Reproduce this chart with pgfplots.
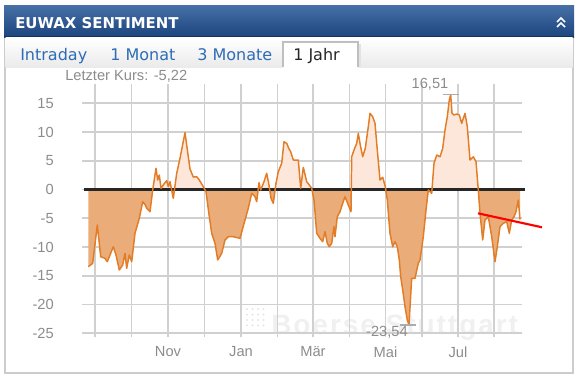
\documentclass[border=0pt]{standalone}
\usepackage{fontspec}
\setmainfont{Liberation Sans}
\newfontfamily\dejavu{DejaVu Sans}
\usepackage{pgfplots}
\pgfplotsset{compat=1.18}
\usepackage{pgfplotstable}

\definecolor{hdrtop}{RGB}{70,112,166}
\definecolor{hdrbot}{RGB}{28,68,126}
\definecolor{tabblue}{RGB}{45,109,181}
\definecolor{lbl}{RGB}{140,140,140}
\definecolor{gridgray}{RGB}{208,208,208}
\definecolor{linec}{RGB}{226,124,38}
\definecolor{negc}{RGB}{234,172,120}
\definecolor{posc}{RGB}{253,231,218}

\pgfplotstableread{
x y
88.3 -13.43
92.7 -12.83
97.3 -6.17
100.7 -11.69
105 -11.97
107.3 -12.56
113.3 -9.95
116 -11.39
119.3 -14.0
122.7 -13.13
125 -11.10
126.7 -13.70
129.3 -11.39
131.7 -12.56
135 -7.62
139.3 -5.01
142.7 -2.12
145.3 -2.70
146.7 -3.27
150 -3.86
152.7 -0.09
156 3.69
157.7 1.65
159.3 2.52
161 0.21
164 0.96
166.7 1.53
168.3 0.49
170 1.36
173.3 -1.53
176.7 2.82
180 5.43
185 9.88
188.3 5.70
190 3.57
193.3 2.17
196.7 2.23
199.3 1.65
203.3 0.49
206 -0.38
209.3 -4.73
211.7 -7.62
215 -9.36
217.7 -12.26
221.7 -11.10
225 -8.78
228.3 -8.21
233.3 -8.21
240 -8.49
245 -5.30
248.3 -3.27
251.7 -0.66
255 -1.25
256.7 -2.12
259 1.18
260.7 -0.09
264 1.36
266.7 2.82
269 0.78
271 -1.53
273.3 -2.40
276 1.08
278.3 3.10
281.7 4.56
284 8.31
286.7 8.03
288.7 7.17
290.7 6.57
293.3 5.13
298.3 5.13
300.7 0.21
303.3 3.86
306.7 1.36
309.3 0.78
311.7 0.21
314 -1.83
316.7 -7.62
320 -8.49
322.7 -9.08
325 -7.34
327.3 -9.36
329.3 -9.95
331.7 -9.36
334 -6.47
335 -8.21
337.3 -4.73
340 -3.86
342.7 -2.40
345 -1.25
348.3 -2.70
351 -3.86
351.7 5.70
354 6.87
356.7 8.03
358.3 9.77
360 8.03
362.7 5.70
365.3 7.17
368.3 10.92
370 13.25
372.7 12.66
375 11.51
377.3 6.87
380 1.65
382.7 2.12
385.3 0.49
387.3 -1.83
390 -7.62
392.7 -9.95
395 -9.08
397.3 -9.95
399.3 -12.26
400.7 -15.17
402.7 -17.48
405 -20.38
407.3 -22.70
409 -23.54
411.7 -15.44
415 -15.44
418.3 -12.83
420 -12.26
423.3 -8.21
426 -3.57
428.3 -0.09
431.7 -0.66
434 4.56
436.7 6.00
440 5.70
442.7 7.17
445 10.35
447.3 12.66
449.3 15.57
450.7 16.51
452 13.25
454 12.96
456.7 13.13
459.3 12.96
461.7 11.51
465 13.25
467.3 10.92
470 5.13
473.3 5.70
476 4.83
478.3 -0.09
480 -4.14
482.7 -8.78
485 -5.30
488.3 -4.73
491.7 -8.21
495 -12.56
497.3 -9.95
500 -6.47
503.3 -5.88
506.7 -5.60
509.3 -7.62
511.7 -5.30
514 -4.73
516 -3.86
518.3 -1.83
520 -5.22
}\sentiment

\begin{document}
\begin{tikzpicture}
\begin{scope}[x=0.75pt,y=-0.75pt]
\path (0,0) rectangle (582,383);
% panel border
\draw[gray!40, line width=0.9pt] (5,37) -- (5,373) -- (573,373) -- (573,37);
% header
\shade[top color=hdrtop,bottom color=hdrbot] (4,5) rectangle (574,37);
\draw[hdrbot!75!black, line width=0.9pt] (4,36.6) -- (574,36.6);
\node[anchor=base west, inner sep=0pt, text=white, font=\dejavu\bfseries\fontsize{11.2}{13}\selectfont] at (15,28.5) {EUWAX SENTIMENT};
\draw[white, line width=1.2pt] (557,22) -- (561,18) -- (565,22);
\draw[white, line width=1.2pt] (557,27) -- (561,23) -- (565,27);
% tab row
\shade[top color=white,bottom color=gray!16] (5.5,37.5) rectangle (572.5,67);
\fill[gray!22] (358,44) rectangle (361,67);
\fill[white] (283,42) rectangle (358,68);
\draw[gray!50, line width=0.8pt] (283,67) -- (283,42) -- (358,42) -- (358,67);
\node[anchor=base west, inner sep=0pt, text=tabblue, font=\dejavu\fontsize{12}{14}\selectfont] at (20,60) {Intraday};
\node[anchor=base west, inner sep=0pt, text=tabblue, font=\dejavu\fontsize{12}{14}\selectfont] at (110,60) {1 Monat};
\node[anchor=base west, inner sep=0pt, text=tabblue, font=\dejavu\fontsize{12}{14}\selectfont] at (197,60) {3 Monate};
\node[anchor=base west, inner sep=0pt, text=black!85, font=\dejavu\fontsize{12}{14}\selectfont] at (293,60) {1 Jahr};
\node[anchor=base west, inner sep=0pt, text=lbl, font=\fontsize{11}{13}\selectfont] at (65,80) {Letzter Kurs: -5,22};
% watermark
\foreach \i in {0,...,3} {\foreach \j in {0,...,3} {\fill[gray!20] (247+\i*5.5,309+\j*5.5) circle (1.2);}}
\node[anchor=base west, inner sep=0pt, text=gray!12, font=\bfseries\fontsize{21}{24}\selectfont\addfontfeatures{LetterSpace=7}] at (271,334) {Boerse Stuttgart};
\end{scope}

\begin{axis}[at={(64.5pt,-249.94pt)}, anchor=south west, scale only axis,
  width=327pt, height=186.94pt,
  xmin=86, xmax=522, ymin=-25, ymax=18.35, clip=false,
  axis x line*=bottom, axis y line*=left,
  x axis line style={draw=gridgray, line width=1.3pt, -},
  y axis line style={draw=white, line width=0.1pt, -},
  xtick={95,131.5,168,204.5,241,277.5,313,349.5,385.5,422,458,494},
  xticklabels={,,Nov,,Jan,,Mär,,Mai,,Jul,},
  ytick={-25,-20,-15,-10,-5,0,5,10,15},
  yticklabels={-25,-20,-15,-10,-5,0,5,10,15},
  tick align=outside, major tick length=3pt,
  tick style={draw=gridgray, line width=1.3pt},
  ticklabel style={font=\fontsize{11}{13}\selectfont, text=lbl},
  yticklabel style={inner sep=0pt, xshift=-21pt},
  xticklabel style={inner sep=0pt, yshift=-7pt},
  unbounded coords=jump,
]
% grid lines
\addplot[draw=gridgray, line width=1.3pt, forget plot] coordinates {
(95,-25) (95,18.35) (nan,nan) (131.5,-25) (131.5,18.35) (nan,nan)
(168,-25) (168,18.35) (nan,nan) (204.5,-25) (204.5,18.35) (nan,nan)
(241,-25) (241,18.35) (nan,nan) (277.5,-25) (277.5,18.35) (nan,nan)
(313,-25) (313,18.35) (nan,nan) (349.5,-25) (349.5,18.35) (nan,nan)
(385.5,-25) (385.5,18.35) (nan,nan) (422,-25) (422,18.35) (nan,nan)
(458,-25) (458,18.35) (nan,nan) (494,-25) (494,18.35)};
\addplot[draw=gridgray, line width=1.3pt, forget plot] coordinates {
(84,-25) (522,-25) (nan,nan) (84,-20) (522,-20) (nan,nan)
(84,-15) (522,-15) (nan,nan) (84,-10) (522,-10) (nan,nan)
(84,-5) (522,-5) (nan,nan) (84,5) (522,5) (nan,nan)
(84,10) (522,10) (nan,nan) (84,15) (522,15)};
\begin{scope}
\clip (axis cs:80,0) rectangle (axis cs:530,19);
\addplot[fill=posc, draw=none, forget plot] table[x=x,y=y] {\sentiment} -- (axis cs:520,0) -- (axis cs:88.3,0) -- cycle;
\end{scope}
\begin{scope}
\clip (axis cs:80,0) rectangle (axis cs:530,-26);
\addplot[fill=negc, draw=none, forget plot] table[x=x,y=y] {\sentiment} -- (axis cs:520,0) -- (axis cs:88.3,0) -- cycle;
\end{scope}
\addplot[black!85, line width=1.6pt, forget plot] coordinates {(84,0) (525,0)};
\addplot[linec, line width=1.1pt, line join=round, forget plot] table[x=x,y=y] {\sentiment};
\addplot[gray!65, line width=1.2pt, forget plot] coordinates {(443,16.51) (459,16.51)};
\addplot[gray!65, line width=1.2pt, forget plot] coordinates {(400,-23.54) (416,-23.54)};
\node[anchor=base, inner sep=0pt, text=lbl, font=\fontsize{11}{13}\selectfont] at (axis cs:430,17.65) {16,51};
\node[anchor=base, inner sep=0pt, text=lbl, font=\fontsize{11}{13}\selectfont] at (axis cs:387,-25.65) {-23,54};
\draw[red, line width=1.6pt] (axis cs:478,-4.14) -- (axis cs:542,-6.57);
\end{axis}
\end{tikzpicture}
\end{document}
